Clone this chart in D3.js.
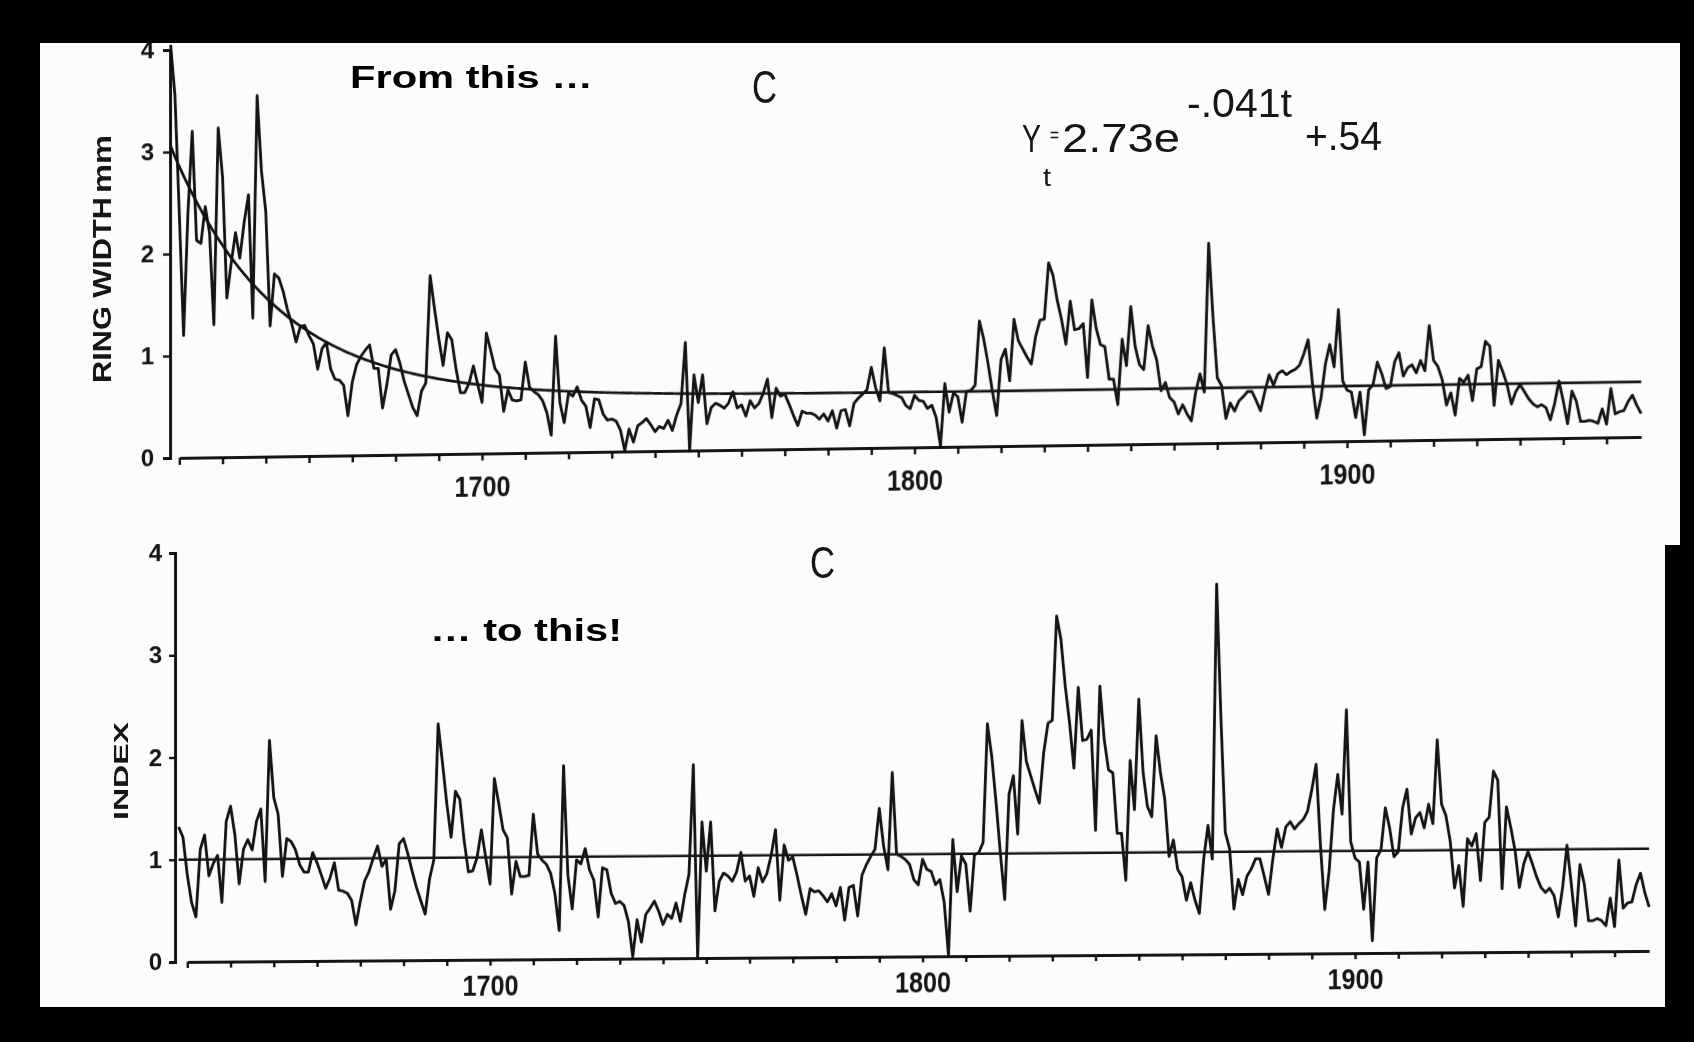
<!DOCTYPE html>
<html>
<head>
<meta charset="utf-8">
<script src="https://cdn.jsdelivr.net/npm/d3@7"></script>
<style>
  html, body { margin: 0; padding: 0; background: #000; }
  svg { display: block; }
</style>
</head>
<body>
<svg id="fig" width="1694" height="1042"></svg>
<script>
// Annual series, one value per year starting at firstYear
const firstYear = 1628;

// Raw ring width (mm)
const ringWidth = [
  4.05, 3.55, 2.40, 1.20, 2.40, 3.20, 2.13, 2.10, 2.46, 2.20,
  1.30, 3.23, 2.75, 1.56, 1.90, 2.20, 1.95, 2.30, 2.57, 1.36,
  3.54, 2.80, 2.40, 1.28, 1.79, 1.75, 1.62, 1.44, 1.30, 1.12,
  1.27, 1.28, 1.18, 1.10, 0.85, 1.05, 1.11, 0.85, 0.75, 0.74,
  0.69, 0.39, 0.72, 0.89, 0.97, 1.03, 1.08, 0.85, 0.85, 0.46,
  0.69, 0.98, 1.03, 0.90, 0.72, 0.59, 0.46, 0.38, 0.62, 0.70,
  1.75, 1.43, 1.13, 0.87, 1.19, 1.12, 0.83, 0.60, 0.60, 0.69,
  0.86, 0.68, 0.50, 1.18, 1.01, 0.83, 0.77, 0.41, 0.62, 0.52,
  0.51, 0.52, 0.89, 0.64, 0.60, 0.57, 0.51, 0.39, 0.17, 1.14,
  0.49, 0.29, 0.58, 0.55, 0.64, 0.51, 0.45, 0.24, 0.52, 0.51,
  0.37, 0.31, 0.32, 0.30, 0.21, 0.01, 0.22, 0.09, 0.25, 0.28,
  0.32, 0.26, 0.19, 0.24, 0.22, 0.30, 0.20, 0.35, 0.46, 1.06,
  0.00, 0.74, 0.47, 0.74, 0.26, 0.42, 0.46, 0.44, 0.41, 0.46,
  0.57, 0.41, 0.44, 0.33, 0.48, 0.41, 0.45, 0.55, 0.69, 0.31,
  0.60, 0.52, 0.54, 0.44, 0.33, 0.23, 0.37, 0.35, 0.35, 0.33,
  0.29, 0.34, 0.27, 0.37, 0.20, 0.37, 0.38, 0.22, 0.44, 0.49,
  0.53, 0.57, 0.79, 0.59, 0.46, 0.98, 0.54, 0.53, 0.51, 0.49,
  0.41, 0.38, 0.51, 0.46, 0.45, 0.38, 0.41, 0.29, 0.01, 0.62,
  0.34, 0.53, 0.49, 0.24, 0.54, 0.55, 0.60, 1.23, 1.05, 0.81,
  0.54, 0.30, 0.85, 0.95, 0.64, 1.24, 1.03, 0.95, 0.87, 0.80,
  1.07, 1.23, 1.24, 1.79, 1.67, 1.42, 1.23, 0.99, 1.41, 1.13,
  1.14, 1.19, 0.66, 1.42, 1.14, 0.98, 0.96, 0.64, 0.64, 0.39,
  1.03, 0.77, 1.35, 0.96, 0.78, 0.73, 1.16, 0.96, 0.82, 0.52,
  0.60, 0.45, 0.41, 0.29, 0.38, 0.29, 0.22, 0.50, 0.68, 0.50,
  1.96, 1.24, 0.64, 0.56, 0.24, 0.39, 0.31, 0.41, 0.45, 0.50,
  0.50, 0.41, 0.31, 0.50, 0.66, 0.56, 0.67, 0.70, 0.66, 0.69,
  0.71, 0.75, 0.86, 1.00, 0.57, 0.23, 0.43, 0.76, 0.95, 0.73,
  1.29, 0.59, 0.50, 0.48, 0.23, 0.48, 0.06, 0.50, 0.55, 0.77,
  0.66, 0.51, 0.53, 0.77, 0.86, 0.63, 0.71, 0.74, 0.66, 0.78,
  0.68, 1.12, 0.78, 0.72, 0.59, 0.34, 0.46, 0.24, 0.60, 0.56,
  0.63, 0.38, 0.69, 0.71, 0.96, 0.91, 0.33, 0.77, 0.66, 0.53,
  0.34, 0.46, 0.53, 0.46, 0.39, 0.34, 0.31, 0.33, 0.30, 0.18,
  0.34, 0.56, 0.36, 0.14, 0.46, 0.36, 0.16, 0.16, 0.17, 0.16,
  0.14, 0.28, 0.13, 0.48, 0.23, 0.25, 0.26, 0.35, 0.41, 0.31,
  0.23
];

// Standardised ring-width index
const ringIndex = [
  1.32, 1.22, 0.85, 0.58, 0.44, 1.10, 1.24, 0.84, 0.96, 1.04,
  0.58, 1.37, 1.52, 1.24, 0.76, 1.10, 1.19, 1.09, 1.37, 1.49,
  0.78, 2.16, 1.60, 1.44, 0.83, 1.20, 1.17, 1.09, 0.94, 0.87,
  0.87, 1.06, 0.96, 0.84, 0.71, 0.81, 0.96, 0.69, 0.68, 0.66,
  0.59, 0.35, 0.58, 0.78, 0.87, 1.00, 1.12, 0.92, 0.99, 0.50,
  0.68, 1.14, 1.19, 1.04, 0.87, 0.71, 0.58, 0.45, 0.79, 0.98,
  2.31, 1.93, 1.53, 1.20, 1.65, 1.57, 1.17, 0.86, 0.87, 1.00,
  1.27, 1.00, 0.74, 1.77, 1.53, 1.27, 1.19, 0.64, 0.96, 0.81,
  0.81, 0.82, 1.42, 1.03, 0.97, 0.93, 0.84, 0.64, 0.28, 1.89,
  0.82, 0.49, 0.97, 0.93, 1.08, 0.87, 0.77, 0.41, 0.89, 0.87,
  0.64, 0.54, 0.56, 0.52, 0.36, 0.02, 0.38, 0.16, 0.43, 0.49,
  0.56, 0.46, 0.33, 0.43, 0.39, 0.54, 0.36, 0.62, 0.82, 1.89,
  0.00, 1.33, 0.85, 1.33, 0.46, 0.75, 0.83, 0.80, 0.75, 0.84,
  1.03, 0.75, 0.80, 0.60, 0.88, 0.74, 0.82, 1.00, 1.25, 0.56,
  1.10, 0.95, 0.98, 0.80, 0.60, 0.42, 0.67, 0.64, 0.65, 0.60,
  0.54, 0.62, 0.50, 0.68, 0.36, 0.68, 0.70, 0.40, 0.80, 0.90,
  0.98, 1.05, 1.45, 1.08, 0.85, 1.80, 1.00, 0.98, 0.95, 0.90,
  0.75, 0.70, 0.95, 0.85, 0.83, 0.70, 0.75, 0.53, 0.01, 1.14,
  0.63, 0.98, 0.90, 0.44, 0.99, 1.01, 1.11, 2.27, 1.95, 1.50,
  1.00, 0.55, 1.58, 1.76, 1.19, 2.30, 1.90, 1.76, 1.62, 1.49,
  1.98, 2.27, 2.30, 3.32, 3.09, 2.63, 2.27, 1.83, 2.62, 2.10,
  2.11, 2.20, 1.22, 2.63, 2.11, 1.81, 1.78, 1.19, 1.19, 0.73,
  1.90, 1.42, 2.50, 1.78, 1.45, 1.35, 2.14, 1.78, 1.52, 0.96,
  1.12, 0.83, 0.76, 0.53, 0.70, 0.53, 0.40, 0.93, 1.26, 0.93,
  3.62, 2.30, 1.19, 1.03, 0.44, 0.73, 0.58, 0.76, 0.83, 0.93,
  0.93, 0.76, 0.58, 0.93, 1.22, 1.04, 1.24, 1.29, 1.22, 1.27,
  1.31, 1.39, 1.60, 1.85, 1.06, 0.43, 0.80, 1.40, 1.75, 1.36,
  2.38, 1.09, 0.93, 0.89, 0.43, 0.89, 0.12, 0.93, 1.01, 1.42,
  1.22, 0.94, 0.99, 1.42, 1.60, 1.16, 1.32, 1.37, 1.22, 1.45,
  1.26, 2.08, 1.45, 1.34, 1.09, 0.63, 0.85, 0.45, 1.11, 1.04,
  1.16, 0.70, 1.27, 1.32, 1.77, 1.68, 0.62, 1.42, 1.22, 0.99,
  0.63, 0.86, 0.98, 0.86, 0.73, 0.63, 0.58, 0.62, 0.55, 0.34,
  0.63, 1.04, 0.66, 0.25, 0.85, 0.66, 0.30, 0.30, 0.32, 0.30,
  0.25, 0.52, 0.24, 0.89, 0.42, 0.47, 0.48, 0.65, 0.76, 0.57,
  0.43
];

// Fitted growth curve Y_t = a * e^(-b t) + k, t counted in years from curveOrigin
const curveA = 2.73;
const curveB = 0.041;
const curveK = 0.54;
const curveOrigin = 1626;

// Mean of the index series
const indexMean = 1;

// Axis ticks
const valueTicks = [0, 1, 2, 3, 4];
const decadeTicks = [1630, 1640, 1650, 1660, 1670, 1680, 1690, 1700, 1710, 1720,
  1730, 1740, 1750, 1760, 1770, 1780, 1790, 1800, 1810, 1820, 1830, 1840, 1850,
  1860, 1870, 1880, 1890, 1900, 1910, 1920, 1930, 1940, 1950, 1960];
const labelledYears = [1700, 1800, 1900];

const lastYear = firstYear + ringIndex.length - 1;
const ink = "#121212";

const svg = d3.select("#fig");
const W = 1694, H = 1042;

svg.append("rect").attr("width", W).attr("height", H).attr("fill", "#fcfcfc");

const defs = svg.append("defs");
defs.append("filter").attr("id", "soft")
  .append("feGaussianBlur").attr("stdDeviation", 0.45);

function drawPanel(p) {
  // the printed figure sits slightly askew: horizontals rise to the right
  const g = svg.append("g")
    .attr("transform",
      `translate(${p.axisX},${p.y0}) skewY(${p.skew}) translate(${-p.axisX},${-p.y0})`)
    .attr("filter", "url(#soft)");

  const x = d3.scaleLinear().domain([1700, 1900]).range([p.x1700, p.x1900]);
  const xAxisScale = x.copy().domain([decadeTicks[0], lastYear])
    .range([x(decadeTicks[0]), x(lastYear)]);
  const y = d3.scaleLinear().domain([0, 4]).range([p.y0, p.y4]);

  // value axis
  const ya = g.append("g")
    .attr("transform", `translate(${p.axisX},0)`)
    .call(d3.axisLeft(y).tickValues(valueTicks).tickSize(p.yTick)
      .tickSizeOuter(p.yTick).tickPadding(p.yPad).tickFormat(d3.format("d")));
  ya.select(".domain").attr("stroke", ink).attr("stroke-width", 2.9);
  ya.selectAll(".tick line").attr("stroke", ink).attr("stroke-width", 2.4);
  ya.selectAll(".tick text")
    .attr("fill", ink)
    .attr("font-family", "'Liberation Sans', Arial, sans-serif")
    .attr("font-weight", "bold")
    .attr("font-size", 24);

  // year axis
  const xa = g.append("g")
    .attr("transform", `translate(0,${p.y0})`)
    .call(d3.axisBottom(xAxisScale).tickValues(decadeTicks).tickSize(p.xTick)
      .tickSizeOuter(0).tickPadding(p.xPad)
      .tickFormat(d => labelledYears.includes(d) ? String(d) : ""));
  xa.select(".domain").attr("stroke", ink).attr("stroke-width", 3.1);
  xa.selectAll(".tick line").attr("stroke", ink).attr("stroke-width", 2.4);
  xa.selectAll(".tick text")
    .attr("fill", ink)
    .attr("font-family", "'Liberation Sans', Arial, sans-serif")
    .attr("font-weight", "bold")
    .attr("font-size", 30)
    .filter(d => labelledYears.includes(d))
    .attr("textLength", 56)
    .attr("lengthAdjust", "spacingAndGlyphs");

  const line = d3.line()
    .x((d, i) => x(firstYear + i))
    .y(d => y(d));

  g.append("path")
    .datum(p.values)
    .attr("d", line)
    .attr("fill", "none")
    .attr("stroke", ink)
    .attr("stroke-width", 2.8)
    .attr("stroke-linejoin", "round");

  if (p.reference) p.reference(g, x, y);
}

// Ring width panel
drawPanel({
  values: ringWidth,
  skew: -0.82, axisX: 170, y0: 458, y4: 50,
  x1700: 482, x1900: 1347,
  yTick: 7, yPad: 9, xTick: 7, xPad: 15,
  reference: (g, x, y) => {
    const yrs = d3.range(firstYear, lastYear + 0.01, 0.5);
    g.append("path")
      .datum(yrs)
      .attr("d", d3.line()
        .x(d => x(d))
        .y(d => y(curveA * Math.exp(-curveB * (d - curveOrigin)) + curveK)))
      .attr("fill", "none")
      .attr("stroke", ink)
      .attr("stroke-width", 2.7);
  }
});

// Index panel
drawPanel({
  values: ringIndex,
  skew: -0.43, axisX: 175, y0: 962, y4: 553,
  x1700: 490, x1900: 1355,
  yTick: 6, yPad: 7, xTick: 6, xPad: 9,
  reference: (g, x, y) => {
    g.append("path")
      .datum([firstYear, lastYear])
      .attr("d", d3.line().x(d => x(d)).y(() => y(indexMean)))
      .attr("fill", "none")
      .attr("stroke", ink)
      .attr("stroke-width", 2.7);
  }
});

// Scanned lettering
const lettering = svg.append("g")
  .attr("fill", ink)
  .attr("font-family", "'Liberation Sans', Arial, sans-serif")
  .attr("filter", "url(#soft)");

function word(g, txt, x, y, size, len, opts = {}) {
  const t = g.append("text")
    .attr("x", x).attr("y", y)
    .attr("font-size", size)
    .text(txt);
  if (len) t.attr("textLength", len).attr("lengthAdjust", "spacingAndGlyphs");
  if (opts.weight) t.attr("font-weight", opts.weight);
  if (opts.rotate) t.attr("transform", `rotate(${opts.rotate},${x},${y})`);
  return t;
}

word(lettering, "RING WIDTH", 111, 383, 25, 186, { weight: "bold", rotate: -90 });
word(lettering, "mm", 111, 193, 25, 58, { weight: "bold", rotate: -90 });
word(lettering, "INDEX", 128, 820, 20, 98, { weight: "bold", rotate: -90 });

word(lettering, "C", 752, 103, 46, 25);
word(lettering, "C", 810, 578, 44, 25);

// Fitted equation: Y_t = 2.73 e^(-.041t) + .54
word(lettering, "Y", 1022, 152, 38, 19);
word(lettering, "t", 1043, 186, 25, 8);
word(lettering, "=", 1050, 142, 20, 9);
word(lettering, "2.73e", 1062, 152, 41, 118);
word(lettering, "-.041t", 1187, 117, 40, 105);
word(lettering, "+.54", 1305, 150, 41, 77);

// Captions
const captions = svg.append("g")
  .attr("fill", "#000")
  .attr("font-family", "'Liberation Sans', Arial, sans-serif")
  .attr("font-weight", "bold");
word(captions, "From this \u2026", 350, 88, 32, 243);
word(captions, "\u2026 to this!", 430, 641, 32, 192);

// Black mount around the page
svg.append("path")
  .attr("d", `M0,0H${W}V${H}H0Z M40,43H1680V545H1665V1007H40Z`)
  .attr("fill", "#000")
  .attr("fill-rule", "evenodd");
</script>
</body>
</html>
